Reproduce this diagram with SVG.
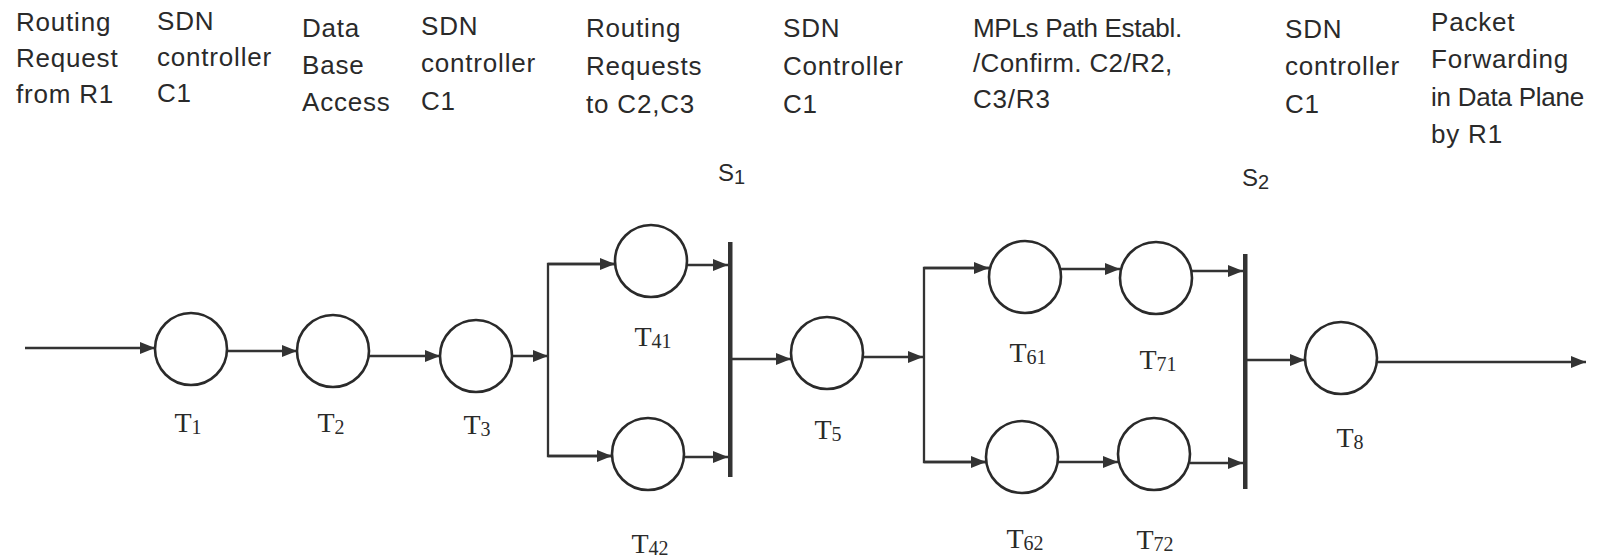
<svg xmlns="http://www.w3.org/2000/svg" width="1612" height="559" viewBox="0 0 1612 559">
<style>
.hdr{font-family:"Liberation Sans",Arial,sans-serif;font-size:26px;letter-spacing:0.8px;fill:#2a2a2a}
.lbl{font-family:"Liberation Serif","Times New Roman",serif;font-size:28px;fill:#2a2a2a;text-anchor:middle}
.sub{font-size:20px}
.slbl{font-family:"Liberation Sans",Arial,sans-serif;font-size:24px;fill:#2a2a2a}
.place{fill:#fff;stroke:#2a2a2a;stroke-width:2.6}
.arc{fill:none;stroke:#333;stroke-width:2.3}
.bar{fill:#333}
</style>
<defs>
<marker id="ah" markerUnits="userSpaceOnUse" markerWidth="16" markerHeight="12" refX="15" refY="6" orient="auto">
<path d="M0,0 L15,6 L0,12 z" fill="#333"/>
</marker>
</defs>

<g id="headers">
<text class="hdr" x="16" y="31">Routing</text>
<text class="hdr" x="16" y="67">Request</text>
<text class="hdr" x="16" y="103">from R1</text>
<text class="hdr" x="157" y="30">SDN</text>
<text class="hdr" x="157" y="66">controller</text>
<text class="hdr" x="157" y="102">C1</text>
<text class="hdr" x="302" y="37">Data</text>
<text class="hdr" x="302" y="74">Base</text>
<text class="hdr" x="302" y="111">Access</text>
<text class="hdr" x="421" y="35">SDN</text>
<text class="hdr" x="421" y="72">controller</text>
<text class="hdr" x="421" y="110">C1</text>
<text class="hdr" x="586" y="37">Routing</text>
<text class="hdr" x="586" y="75">Requests</text>
<text class="hdr" x="586" y="113">to C2,C3</text>
<text class="hdr" x="783" y="37">SDN</text>
<text class="hdr" x="783" y="75">Controller</text>
<text class="hdr" x="783" y="113">C1</text>
<text class="hdr" x="973" y="37" textLength="210" lengthAdjust="spacing">MPLs Path Establ.</text>
<text class="hdr" x="973" y="72" textLength="200" lengthAdjust="spacing">/Confirm. C2/R2,</text>
<text class="hdr" x="973" y="108">C3/R3</text>
<text class="hdr" x="1285" y="38">SDN</text>
<text class="hdr" x="1285" y="75">controller</text>
<text class="hdr" x="1285" y="113">C1</text>
<text class="hdr" x="1431" y="31">Packet</text>
<text class="hdr" x="1431" y="68">Forwarding</text>
<text class="hdr" x="1431" y="106" textLength="154" lengthAdjust="spacing">in Data Plane</text>
<text class="hdr" x="1431" y="143">by R1</text>
</g>

<g id="connectors">
<line class="arc" x1="25" y1="348" x2="155" y2="348" marker-end="url(#ah)"/>
<line class="arc" x1="227" y1="351" x2="297" y2="351" marker-end="url(#ah)"/>
<line class="arc" x1="369" y1="356" x2="440" y2="356" marker-end="url(#ah)"/>
<line class="arc" x1="512" y1="356" x2="548" y2="356" marker-end="url(#ah)"/>
<polyline class="arc" points="615,264 548,264 548,456 612,456"/>
<line class="arc" x1="548" y1="264" x2="615" y2="264" marker-end="url(#ah)"/>
<line class="arc" x1="548" y1="456" x2="612" y2="456" marker-end="url(#ah)"/>
<line class="arc" x1="687" y1="265" x2="728" y2="265" marker-end="url(#ah)"/>
<line class="arc" x1="684" y1="457" x2="728" y2="457" marker-end="url(#ah)"/>
<line class="arc" x1="732" y1="359" x2="791" y2="359" marker-end="url(#ah)"/>
<line class="arc" x1="863" y1="357" x2="923" y2="357" marker-end="url(#ah)"/>
<polyline class="arc" points="989,268 924,268 924,462 986,462"/>
<line class="arc" x1="924" y1="268" x2="989" y2="268" marker-end="url(#ah)"/>
<line class="arc" x1="924" y1="462" x2="986" y2="462" marker-end="url(#ah)"/>
<line class="arc" x1="1061" y1="269" x2="1120" y2="269" marker-end="url(#ah)"/>
<line class="arc" x1="1192" y1="271" x2="1243" y2="271" marker-end="url(#ah)"/>
<line class="arc" x1="1058" y1="462" x2="1118" y2="462" marker-end="url(#ah)"/>
<line class="arc" x1="1190" y1="463" x2="1243" y2="463" marker-end="url(#ah)"/>
<line class="arc" x1="1247" y1="360" x2="1305" y2="360" marker-end="url(#ah)"/>
<line class="arc" x1="1377" y1="362" x2="1586" y2="362" marker-end="url(#ah)"/>
</g>

<g id="S1">
<rect class="bar" x="728" y="242" width="4.5" height="235"/>
<text class="slbl" x="718" y="181">S<tspan class="sub" dy="3">1</tspan></text>
</g>
<g id="S2">
<rect class="bar" x="1243" y="254" width="4.5" height="235"/>
<text class="slbl" x="1242" y="186">S<tspan class="sub" dy="3">2</tspan></text>
</g>

<g id="T1"><circle class="place" cx="191" cy="349" r="36"/><text class="lbl" x="188" y="432">T<tspan class="sub" dy="2">1</tspan></text></g>
<g id="T2"><circle class="place" cx="333" cy="351" r="36"/><text class="lbl" x="331" y="432">T<tspan class="sub" dy="2">2</tspan></text></g>
<g id="T3"><circle class="place" cx="476" cy="356" r="36"/><text class="lbl" x="477" y="434">T<tspan class="sub" dy="2">3</tspan></text></g>
<g id="T41"><circle class="place" cx="651" cy="261" r="36"/><text class="lbl" x="653" y="346">T<tspan class="sub" dy="2">41</tspan></text></g>
<g id="T42"><circle class="place" cx="648" cy="454" r="36"/><text class="lbl" x="650" y="553">T<tspan class="sub" dy="2">42</tspan></text></g>
<g id="T5"><circle class="place" cx="827" cy="353" r="36"/><text class="lbl" x="828" y="439">T<tspan class="sub" dy="2">5</tspan></text></g>
<g id="T61"><circle class="place" cx="1025" cy="277" r="36"/><text class="lbl" x="1028" y="362">T<tspan class="sub" dy="2">61</tspan></text></g>
<g id="T71"><circle class="place" cx="1156" cy="278" r="36"/><text class="lbl" x="1158" y="369">T<tspan class="sub" dy="2">71</tspan></text></g>
<g id="T62"><circle class="place" cx="1022" cy="457" r="36"/><text class="lbl" x="1025" y="548">T<tspan class="sub" dy="2">62</tspan></text></g>
<g id="T72"><circle class="place" cx="1154" cy="454" r="36"/><text class="lbl" x="1155" y="549">T<tspan class="sub" dy="2">72</tspan></text></g>
<g id="T8"><circle class="place" cx="1341" cy="358" r="36"/><text class="lbl" x="1350" y="447">T<tspan class="sub" dy="2">8</tspan></text></g>
</svg>
